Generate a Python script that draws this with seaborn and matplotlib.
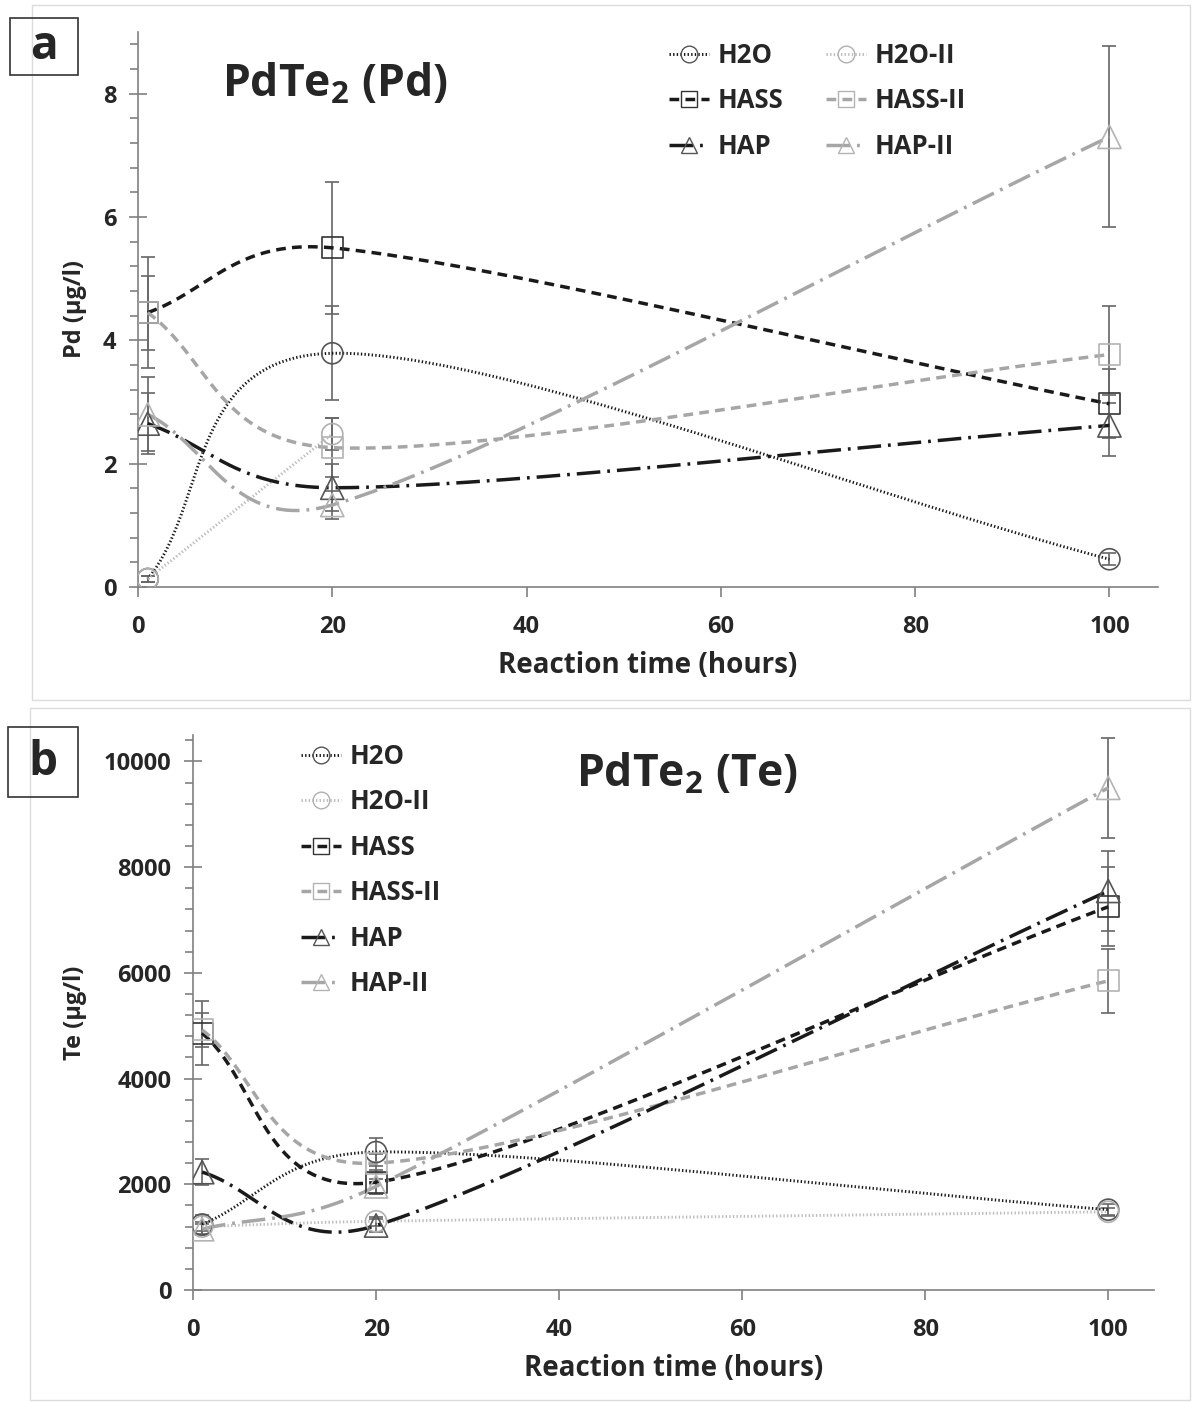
import matplotlib
matplotlib.use("Agg")
import matplotlib.pyplot as plt
from matplotlib.lines import Line2D
from matplotlib.patches import Rectangle
from matplotlib.ticker import MultipleLocator
import seaborn as sns
import numpy as np

# ---- data ----
hours = [1, 20, 100]
series_names = ["H2O", "H2O-II", "HASS", "HASS-II", "HAP", "HAP-II"]

# panel a: Pd (ug/l)
pd_h2o = [0.13, 3.79, 0.45]
pd_h2o_ii = [0.13, 2.48, np.nan]
pd_hass = [4.45, 5.5, 2.97]
pd_hass_ii = [4.45, 2.26, 3.77]
pd_hap = [2.65, 1.61, 2.62]
pd_hap_ii = [2.8, 1.33, 7.3]
pd_h2o_err = [0.05, 0.76, 0.1]
pd_h2o_ii_err = [0.05, 0.26, np.nan]
pd_hass_err = [0.9, 1.07, 0.56]
pd_hass_ii_err = [0.6, 0.48, 0.78]
pd_hap_err = [0.5, 0.38, 0.49]
pd_hap_ii_err = [0.6, 0.22, 1.47]

# panel b: Te (ug/l)
te_h2o = [1240, 2610, 1520]
te_h2o_ii = [1200, 1300, 1480]
te_hass = [4860, 2040, 7250]
te_hass_ii = [4920, 2400, 5850]
te_hap = [2230, 1220, 7550]
te_hap_ii = [1150, 1960, 9500]
te_h2o_err = [180, 270, 110]
te_h2o_ii_err = [90, 80, 80]
te_hass_err = [600, 230, 750]
te_hass_ii_err = [320, 180, 600]
te_hap_err = [240, 120, 760]
te_hap_ii_err = [100, 140, 950]

pd_values = [pd_h2o, pd_h2o_ii, pd_hass, pd_hass_ii, pd_hap, pd_hap_ii]
pd_errors = [pd_h2o_err, pd_h2o_ii_err, pd_hass_err, pd_hass_ii_err, pd_hap_err, pd_hap_ii_err]
te_values = [te_h2o, te_h2o_ii, te_hass, te_hass_ii, te_hap, te_hap_ii]
te_errors = [te_h2o_err, te_h2o_ii_err, te_hass_err, te_hass_ii_err, te_hap_err, te_hap_ii_err]

# ---- styles ----
DOT = (0, (1.0, 1.6))
DASH = (0, (7, 4.5))
DASHDOT = (0, (17, 5, 2, 5))
styles = {
    "H2O":     dict(color="#1a1a1a", ls=DOT, lw=2.1, marker="o", mec="#555555", s=230),
    "H2O-II":  dict(color="#bdbdbd", ls=DOT, lw=2.1, marker="o", mec="#b0b0b0", s=230),
    "HASS":    dict(color="#1a1a1a", ls=DASH, lw=2.5, marker="s", mec="#333333", s=230),
    "HASS-II": dict(color="#a6a6a6", ls=DASH, lw=2.5, marker="s", mec="#b3b3b3", s=230),
    "HAP":     dict(color="#1a1a1a", ls=DASHDOT, lw=2.5, marker="^", mec="#555555", s=280),
    "HAP-II":  dict(color="#a6a6a6", ls=DASHDOT, lw=2.5, marker="^", mec="#b3b3b3", s=280),
}

sns.set_theme(style="white")
plt.rcParams["font.family"] = ["Open Sans", "DejaVu Sans"]
plt.rcParams["font.weight"] = "bold"
plt.rcParams["mathtext.fontset"] = "custom"
plt.rcParams["mathtext.rm"] = "Open Sans:bold"
plt.rcParams["mathtext.default"] = "rm"
plt.rcParams["lines.scale_dashes"] = False

W, H = 1192, 1402
fig = plt.figure(figsize=(W / 100, H / 100), dpi=100)


def px_box(left, top, right, bottom):
    return [left / W, 1 - bottom / H, (right - left) / W, (bottom - top) / H]


def excel_smooth(ax, xs, ys, n=80):
    """Smoothed path through the points, computed in display space like Excel."""
    pts = ax.transData.transform(np.column_stack([xs, ys]))
    k = len(pts)
    if k < 3:
        return np.asarray(xs), np.asarray(ys)
    out = []
    t = np.linspace(0, 1, n)[:, None]
    for i in range(k - 1):
        p1, p2 = pts[i], pts[i + 1]
        p0 = pts[i - 1] if i > 0 else p1
        p3 = pts[i + 2] if i + 2 < k else p2
        d12 = np.linalg.norm(p2 - p1)
        d02 = np.linalg.norm(p2 - p0)
        d13 = np.linalg.norm(p3 - p1)
        f1 = 1 / 3 if i == 0 else 1 / 6
        f2 = 1 / 3 if i + 2 >= k else 1 / 6
        if d02 * f1 > d12 / 2:
            f1 = d12 / (2 * d02)
        if d13 * f2 > d12 / 2:
            f2 = d12 / (2 * d13)
        c1 = p1 + f1 * (p2 - p0)
        c2 = p2 - f2 * (p3 - p1)
        seg = ((1 - t) ** 3) * p1 + 3 * ((1 - t) ** 2) * t * c1 + 3 * (1 - t) * t ** 2 * c2 + t ** 3 * p2
        out.append(seg if i == 0 else seg[1:])
    path = ax.transData.inverted().transform(np.vstack(out))
    return path[:, 0], path[:, 1]


def style_axes(ax, xmax, ymax, ymajor, yminor):
    ax.set_xlim(0, xmax)
    ax.set_ylim(0, ymax)
    ax.xaxis.set_major_locator(MultipleLocator(20))
    ax.yaxis.set_major_locator(MultipleLocator(ymajor))
    ax.yaxis.set_minor_locator(MultipleLocator(yminor))
    for side in ["top", "right"]:
        ax.spines[side].set_visible(False)
    for side in ["left", "bottom"]:
        ax.spines[side].set_color("#808080")
        ax.spines[side].set_linewidth(1.2)
    ax.tick_params(axis="y", which="major", direction="inout", length=13, width=1.2,
                   color="#808080", labelsize=17, pad=9, left=True)
    ax.tick_params(axis="y", which="minor", direction="out", length=6, width=1.2,
                   color="#808080", left=True)
    ax.tick_params(axis="x", which="major", direction="out", length=7, width=1.2,
                   color="#808080", labelsize=17, pad=13, bottom=True)
    ax.grid(False)
    ax.set_facecolor("none")


def draw_panel(ax, values, errors):
    for name, vals, errs in zip(series_names, values, errors):
        st = styles[name]
        x = np.array(hours, dtype=float)
        y = np.array(vals, dtype=float)
        e = np.array(errs, dtype=float)
        ok = ~np.isnan(y)
        x, y, e = x[ok], y[ok], e[ok]
        cx, cy = excel_smooth(ax, x, y)
        sns.lineplot(x=cx, y=cy, ax=ax, sort=False, estimator=None, color=st["color"],
                     linewidth=st["lw"], linestyle=st["ls"], zorder=3)
        ax.errorbar(x, y, yerr=e, fmt="none", ecolor="#666666", elinewidth=1.2,
                    capsize=5, capthick=1.2, zorder=2)
        sns.scatterplot(x=x, y=y, ax=ax, marker=st["marker"], s=st["s"],
                        facecolor="none", edgecolor=st["mec"], linewidth=1.2, zorder=4)


def legend_handles():
    hs = []
    for name in series_names:
        st = styles[name]
        hs.append(Line2D([], [], color=st["color"], linestyle=st["ls"], linewidth=st["lw"],
                         marker=st["marker"], markersize=12, markerfacecolor="none",
                         markeredgecolor=st["mec"], markeredgewidth=1.0, label=name))
    return hs


# ---- panel frames and letter boxes ----
fig.add_artist(Rectangle((32 / W, 1 - 700 / H), (1190 - 32) / W, (700 - 5) / H,
                         transform=fig.transFigure, fill=False, ec="#dcdcdc", lw=1))
fig.add_artist(Rectangle((30 / W, 1 - 1400 / H), (1190 - 30) / W, (1400 - 708) / H,
                         transform=fig.transFigure, fill=False, ec="#dcdcdc", lw=1))
for lab, (l, t, r, b) in [("a", (10, 18, 78, 75)), ("b", (8, 727, 78, 797))]:
    fig.add_artist(Rectangle((l / W, 1 - b / H), (r - l) / W, (b - t) / H,
                             transform=fig.transFigure, fill=False, ec="#333333", lw=1.2))
    fig.text((l + r) / 2 / W, 1 - (t + b) / 2 / H, lab, ha="center", va="center",
             fontsize=33, fontweight="bold")

# ---- panel a ----
ax1 = fig.add_axes(px_box(138, 32, 1158, 587))
style_axes(ax1, 105, 9, 2, 0.4)
draw_panel(ax1, pd_values, pd_errors)
ax1.set_xlabel("Reaction time (hours)", fontsize=20, fontweight="bold")
ax1.xaxis.set_label_coords(0.5, -0.115)
ax1.set_ylabel("Pd (µg/l)", fontsize=17, fontweight="bold")
ax1.yaxis.set_label_coords(-0.05, 0.5)
ax1.text(0.193, 0.905, "PdTe$_2$ (Pd)", transform=ax1.transAxes, ha="center", va="center",
         fontsize=32, fontweight="bold")
order_a = [0, 2, 4, 1, 3, 5]
hs = legend_handles()
ax1.legend([hs[i] for i in order_a], [series_names[i] for i in order_a], ncol=2,
           loc="upper left", bbox_to_anchor=(651 / W, 1 - 24 / H), bbox_transform=fig.transFigure,
           frameon=False, fontsize=18.5, handlelength=1.55, handletextpad=0.35,
           labelspacing=0.72, columnspacing=1.65, borderpad=0.2)

# ---- panel b ----
ax2 = fig.add_axes(px_box(193, 735, 1154, 1290))
style_axes(ax2, 105, 10500, 2000, 400)
draw_panel(ax2, te_values, te_errors)
ax2.set_xlabel("Reaction time (hours)", fontsize=20, fontweight="bold")
ax2.xaxis.set_label_coords(0.5, -0.115)
ax2.set_ylabel("Te (µg/l)", fontsize=17, fontweight="bold")
ax2.yaxis.set_label_coords(-0.11, 0.5)
ax2.text(0.514, 0.928, "PdTe$_2$ (Te)", transform=ax2.transAxes, ha="center", va="center",
         fontsize=32, fontweight="bold")
ax2.legend(handles=legend_handles(), loc="upper left", bbox_to_anchor=(283 / W, 1 - 725 / H),
           bbox_transform=fig.transFigure, frameon=False, fontsize=18.5, handlelength=1.55,
           handletextpad=0.35, labelspacing=0.72, borderpad=0.2)

fig.savefig("out.png", dpi=100)
